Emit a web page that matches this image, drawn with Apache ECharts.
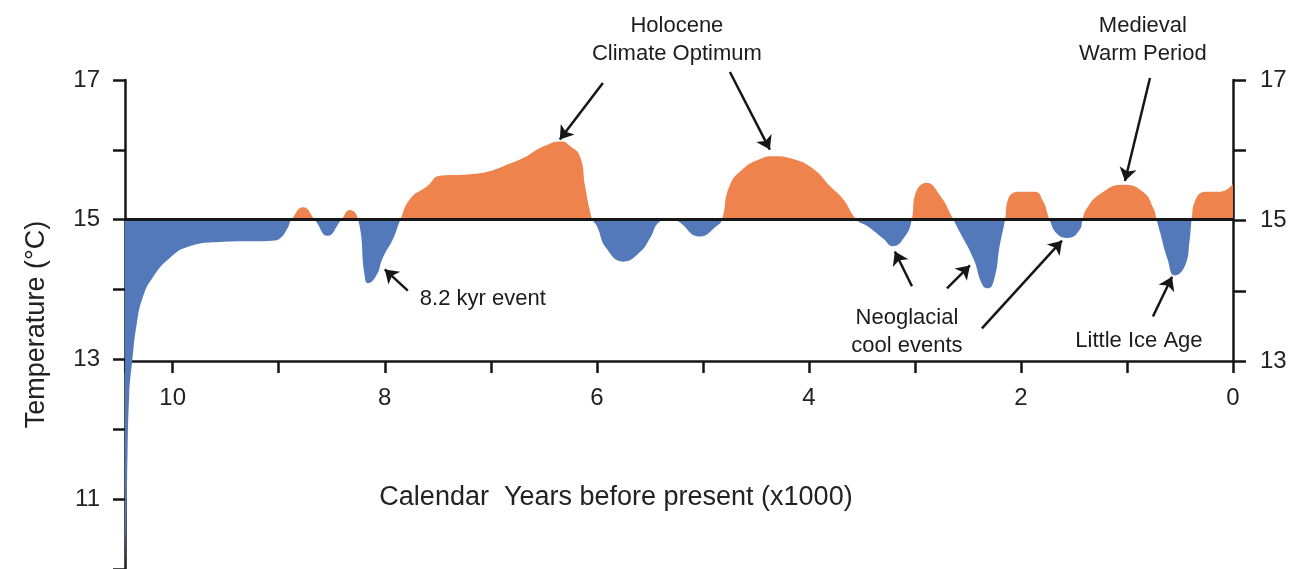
<!DOCTYPE html>
<html>
<head>
<meta charset="utf-8">
<script src="https://cdn.jsdelivr.net/npm/echarts@6/dist/echarts.min.js"></script>
<style>
  html, body { margin: 0; padding: 0; background: #fff; }
  #chart { width: 1292px; height: 569px; }
</style>
</head>
<body>
<div id="chart"></div>
<script>
// calendar years before present (x1000), read left to right
var years = [10.45, 10.43, 10.41, 10.38, 10.34, 10.28, 10.19, 10.03, 9.84, 9.56, 9.06, 8.99, 8.92, 8.88,
  8.77, 8.66, 8.54, 8.41, 8.33, 8.25, 8.19, 8.16, 8.08, 8.02, 7.92, 7.86, 7.76, 7.60, 7.48, 7.20,
  6.73, 6.50, 6.33, 6.25, 6.16, 6.11, 6.07, 6.04, 6.00, 5.91, 5.75, 5.59, 5.50, 5.41, 5.32, 5.25,
  5.03, 4.87, 4.82, 4.75, 4.62, 4.46, 4.34, 4.15, 3.96, 3.80, 3.68, 3.55, 3.45, 3.30, 3.21, 3.09,
  3.03, 3.00, 2.89, 2.76, 2.65, 2.58, 2.45, 2.36, 2.31, 2.25, 2.20, 2.15, 2.12, 2.01, 1.87, 1.79,
  1.73, 1.66, 1.56, 1.44, 1.42, 1.38, 1.25, 1.04, 0.85, 0.75, 0.72, 0.69, 0.62, 0.55, 0.45, 0.41,
  0.39, 0.36, 0.26, 0.12, 0.00];
// temperature (°C)
var temps = [9.9, 11.3, 12.5, 13.0, 13.5, 13.9, 14.17, 14.45, 14.62, 14.68, 14.70, 14.73, 14.87, 15.0,
  15.18, 15.0, 14.77, 15.0, 15.14, 15.0, 14.20, 14.09, 14.20, 14.45, 14.73, 14.97, 15.30, 15.48, 15.63, 15.65,
  15.86, 16.05, 16.12, 16.05, 15.91, 15.48, 15.16, 15.0, 14.91, 14.59, 14.40, 14.54, 14.73, 14.97, 15.01, 14.99,
  14.76, 14.91, 15.0, 15.48, 15.73, 15.87, 15.91, 15.87, 15.73, 15.48, 15.30, 15.0, 14.91, 14.73, 14.62, 14.77,
  15.0, 15.35, 15.53, 15.34, 15.04, 14.83, 14.45, 14.06, 14.02, 14.16, 14.63, 15.0, 15.30, 15.40, 15.40, 15.26,
  15.0, 14.80, 14.74, 14.87, 15.0, 15.16, 15.37, 15.50, 15.40, 15.16, 15.0, 14.83, 14.45, 14.20, 14.35, 14.69,
  15.0, 15.26, 15.40, 15.40, 15.51];

var baseline = 15;
var xLabels = [0, 2, 4, 6, 8, 10];
var leftLabels = [11, 13, 15, 17];
var rightLabels = [13, 15, 17];

// annotations: text centres and arrows, in [years, °C]
var noteText = ['Holocene\nClimate Optimum', 'Medieval\nWarm Period', '8.2 kyr event',
  'Neoglacial\ncool events', 'Little Ice Age'];
var noteAt = [[5.245, 17.57], [0.85, 17.57], [7.075, 13.86], [3.075, 13.40], [0.887, 13.26]];
var arrowTail = [[5.943, 16.957], [4.745, 17.114], [0.783, 17.028], [7.783, 13.984],
  [3.028, 14.047], [2.698, 14.018], [2.368, 13.444], [0.755, 13.614]];
var arrowHead = [[6.349, 16.147], [4.368, 16.004], [1.019, 15.555], [8.0, 14.289],
  [3.189, 14.545], [2.481, 14.346], [1.613, 14.70], [0.575, 14.183]];

var ink = '#161616';
var font = 'Liberation Sans, Arial, sans-serif';

var curve = years.map(function (y, i) { return [y, temps[i]]; });
var notes = noteText.map(function (t, i) { return { name: t, value: noteAt[i] }; });
var arrows = arrowTail.map(function (t, i) { return { coords: [t, arrowHead[i]] }; });

function pick(list) {
  return function (v) { return list.indexOf(v) >= 0 ? String(v) : ''; };
}

var chart = echarts.init(document.getElementById('chart'), null, { renderer: 'canvas' });

var option = {
  animation: false,
  backgroundColor: '#fff',
  textStyle: { fontFamily: font },
  grid: [
    { left: 125, right: 59, top: 80, height: 492 },
    { left: 125, right: 59, top: 80, height: 281 }
  ],
  xAxis: [
    { gridIndex: 0, type: 'value', min: 0, max: 10.45, inverse: true, show: false },
    {
      gridIndex: 1, type: 'value', min: 0, max: 10.45, interval: 1, inverse: true,
      name: 'Calendar  Years before present (x1000)',
      nameLocation: 'middle', nameGap: 123,
      nameTextStyle: { fontSize: 27, color: '#222', fontFamily: font, padding: [0, 126, 0, 0] },
      splitLine: { show: false },
      axisLine: { onZero: false, lineStyle: { color: ink, width: 2.5 } },
      axisTick: { length: 12, lineStyle: { color: ink, width: 2.5 } },
      axisLabel: { margin: 25, fontSize: 24, color: '#222', fontFamily: font, formatter: pick(xLabels) }
    }
  ],
  yAxis: [
    {
      gridIndex: 0, type: 'value', min: 10, max: 17, interval: 1, position: 'left',
      name: 'Temperature (°C)', nameLocation: 'middle', nameGap: 75,
      nameTextStyle: { fontSize: 27, color: '#222', fontFamily: font },
      splitLine: { show: false },
      axisLine: { show: true, onZero: false, lineStyle: { color: ink, width: 2.5 } },
      axisTick: { show: true, length: 12, lineStyle: { color: ink, width: 2.5 } },
      axisLabel: { margin: 25, fontSize: 24, color: '#222', fontFamily: font, formatter: pick(leftLabels) }
    },
    {
      gridIndex: 1, type: 'value', min: 13, max: 17, interval: 1, position: 'right',
      splitLine: { show: false },
      axisLine: { show: true, onZero: false, lineStyle: { color: ink, width: 2.5 } },
      axisTick: { show: true, length: 13, lineStyle: { color: ink, width: 2.5 } },
      axisLabel: { margin: 27, fontSize: 24, color: '#222', fontFamily: font, formatter: pick(rightLabels) }
    }
  ],
  visualMap: {
    type: 'piecewise', show: false, seriesIndex: 0, dimension: 1,
    pieces: [
      { gte: 0, lt: baseline, color: '#5479BA' },
      { gte: baseline, lte: 30, color: '#EE834E' }
    ]
  },
  series: [
    {
      type: 'line', xAxisIndex: 0, yAxisIndex: 0,
      data: curve,
      smooth: 0.5,
      symbol: 'none',
      lineStyle: { width: 0 },
      areaStyle: { origin: baseline, opacity: 1 },
      silent: true,
      markLine: {
        silent: true, symbol: ['none', 'none'],
        label: { show: false },
        lineStyle: { color: ink, width: 3, type: 'solid' },
        data: [{ yAxis: baseline }]
      },
      z: 2
    },
    {
      type: 'lines', coordinateSystem: 'cartesian2d', xAxisIndex: 0, yAxisIndex: 0,
      data: arrows, clip: false, silent: true,
      symbol: ['none', 'arrow'], symbolSize: 13,
      lineStyle: { color: ink, width: 2.5, opacity: 1 },
      z: 4
    },
    {
      type: 'scatter', xAxisIndex: 0, yAxisIndex: 0,
      data: notes, clip: false, silent: true,
      symbolSize: 1, itemStyle: { color: 'rgba(0,0,0,0)', opacity: 1 },
      label: {
        show: true, position: 'inside', formatter: '{b}', opacity: 1,
        fontSize: 22, lineHeight: 28, color: '#1c1c1c', fontFamily: font
      },
      z: 5
    }
  ]
};

chart.setOption(option);
</script>
</body>
</html>
